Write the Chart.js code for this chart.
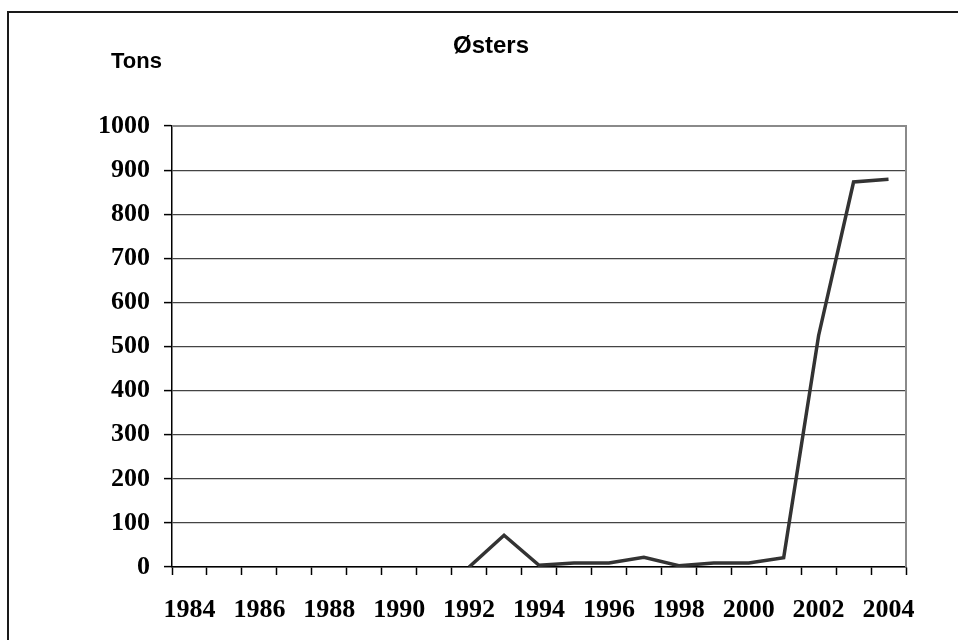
<!DOCTYPE html>
<html>
<head>
<meta charset="utf-8">
<script src="https://cdn.jsdelivr.net/npm/chart.js@4/dist/chart.umd.min.js"></script>
<style>
  html, body { margin: 0; padding: 0; background: #fff; }
  #wrap { width: 958px; height: 640px; position: relative; }
</style>
</head>
<body>
<div id="wrap"><canvas id="c" width="958" height="640"></canvas></div>
<script>
// Oyster landings, tonnes per year
const years = ['1984','1985','1986','1987','1988','1989','1990','1991','1992','1993','1994',
               '1995','1996','1997','1998','1999','2000','2001','2002','2003','2004'];
const tons = [null, null, null, null, null, null, null, null, 0, 72, 4,
              9, 9, 22, 3, 9, 9, 21, 525, 873, 879];
const yTicks = [0, 100, 200, 300, 400, 500, 600, 700, 800, 900, 1000];
const chartTitle = 'Østers';
const unitLabel = 'Tons';

// Frame, heading and unit text drawn on the canvas
const decorations = {
  id: 'decorations',
  afterDraw(chart) {
    const ctx = chart.ctx;
    const a = chart.chartArea;
    ctx.save();
    // outer border
    ctx.strokeStyle = '#1a1a1a';
    ctx.lineWidth = 2;
    ctx.beginPath();
    ctx.moveTo(8, 700);
    ctx.lineTo(8, 12);
    ctx.lineTo(1000, 12);
    ctx.stroke();
    // plot frame: top and right edges
    ctx.strokeStyle = '#8a8a8a';
    ctx.lineWidth = 2;
    ctx.beginPath();
    ctx.moveTo(a.left, a.top);
    ctx.lineTo(a.right, a.top);
    ctx.lineTo(a.right, a.bottom);
    ctx.stroke();
    // heading and unit
    ctx.fillStyle = '#000';
    ctx.textBaseline = 'alphabetic';
    ctx.font = 'bold 24px "Liberation Sans", Arial, sans-serif';
    ctx.textAlign = 'center';
    ctx.fillText(chartTitle, 491, 53);
    ctx.font = 'bold 22px "Liberation Sans", Arial, sans-serif';
    ctx.textAlign = 'left';
    ctx.fillText(unitLabel, 111, 68);
    ctx.restore();
  }
};

new Chart(document.getElementById('c'), {
  type: 'line',
  data: {
    labels: years,
    datasets: [{
      data: tons,
      borderColor: '#333333',
      borderWidth: 3.5,
      pointRadius: 0,
      tension: 0,
      fill: false,
      spanGaps: false,
      borderJoinStyle: 'miter'
    }]
  },
  options: {
    responsive: false,
    animation: false,
    devicePixelRatio: 1,
    layout: { padding: { top: 126, left: 8, right: 52, bottom: 0 } },
    plugins: {
      legend: { display: false },
      title: { display: false },
      tooltip: { enabled: false }
    },
    scales: {
      x: {
        type: 'category',
        offset: true,
        grid: {
          offset: true,
          drawOnChartArea: false,
          drawTicks: true,
          tickLength: 8,
          tickColor: '#000',
          tickWidth: 1.5
        },
        border: { display: true, color: '#000', width: 1.5 },
        ticks: {
          autoSkip: false,
          maxRotation: 0,
          padding: 20,
          color: '#000',
          font: { family: '"Liberation Serif", "Times New Roman", serif', size: 26, weight: 'bold' },
          callback: (v, i) => (i % 2 === 0 ? years[i] : '')
        },
        afterFit: (s) => { s.height = 73; }
      },
      y: {
        min: 0,
        max: 1000,
        afterBuildTicks: (s) => { s.ticks = yTicks.map(v => ({ value: v })); },
        grid: {
          color: (c) => (c.tick && c.tick.value === 1000 ? 'rgba(0,0,0,0)' : '#444'),
          lineWidth: 1.2,
          drawTicks: true,
          tickLength: 8,
          tickColor: '#000',
          tickWidth: 1.5
        },
        border: { display: true, color: '#000', width: 1.5 },
        ticks: {
          padding: 14,
          color: '#000',
          font: { family: '"Liberation Serif", "Times New Roman", serif', size: 26, weight: 'bold' },
          callback: (v) => String(v)
        },
        afterFit: (s) => { s.width = 164; }
      }
    }
  },
  plugins: [decorations]
});
</script>
</body>
</html>
